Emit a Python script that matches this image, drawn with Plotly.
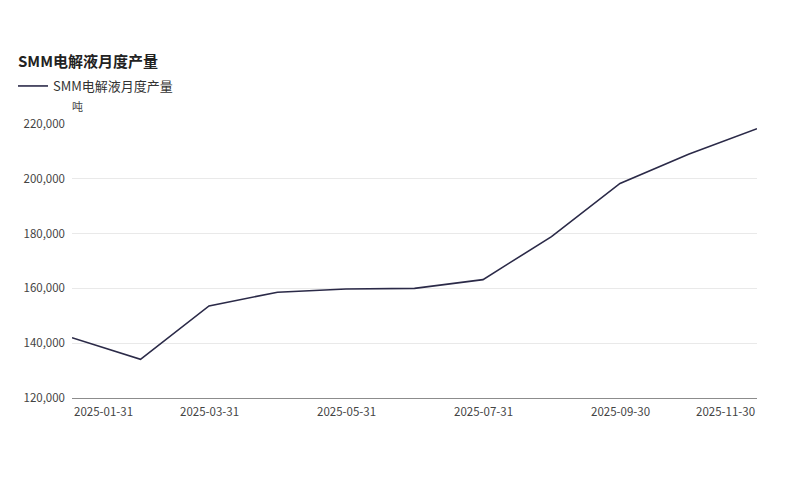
import plotly.graph_objects as go

# monthly data (tonnes)
months = ["2025-01-31", "2025-02-28", "2025-03-31", "2025-04-30", "2025-05-31",
          "2025-06-30", "2025-07-31", "2025-08-31", "2025-09-30", "2025-10-31",
          "2025-11-30"]
output_t = [142000, 134100, 153600, 158600, 159800, 160000, 163200,
            178900, 198300, 209000, 218300]
label_months = ["2025-01-31", "2025-03-31", "2025-05-31", "2025-07-31",
                "2025-09-30", "2025-11-30"]
y_ticks = [120000, 140000, 160000, 180000, 200000, 220000]

FONT = "Noto Sans CJK SC, Noto Sans, sans-serif"
LINE_COLOR = "#2b2a48"

fig = go.Figure()
fig.add_trace(go.Scatter(
    x=months,
    y=output_t,
    name="SMM电解液月度产量",
    mode="lines",
    line=dict(color=LINE_COLOR, width=1.6),
))

# x labels as annotations so the end ones sit flush with the plot edges
annotations = []
for i, m in enumerate(label_months):
    anchor = "left" if i == 0 else ("right" if i == len(label_months) - 1 else "center")
    annotations.append(dict(
        x=m, xref="x", y=0, yref="paper", yanchor="top", yshift=-3,
        xanchor=anchor, text=m, showarrow=False,
        font=dict(size=11.5, color="#444", family=FONT),
    ))
annotations.append(dict(
    x=-0.003, xref="paper", y=1.066, yref="paper", xanchor="left", yanchor="middle",
    text="吨", showarrow=False, font=dict(size=11, color="#444", family=FONT),
))

fig.update_layout(
    width=800,
    height=495,
    paper_bgcolor="white",
    plot_bgcolor="white",
    margin=dict(l=64, r=51, t=116, b=105),
    font=dict(family=FONT, color="#333"),
    title=dict(
        text="<b>SMM电解液月度产量</b>",
        xref="container", x=10 / 800, xanchor="left",
        yref="container", y=1 - 54 / 495, yanchor="middle",
        font=dict(size=15, color="#222", family=FONT),
    ),
    showlegend=True,
    legend=dict(
        orientation="h",
        xref="container", x=5 / 800, xanchor="left",
        yref="container", y=1 - 78 / 495, yanchor="middle",
        font=dict(size=13, color="#333", family=FONT),
        itemwidth=30,
    ),
    annotations=annotations,
)

fig.update_xaxes(
    type="category",
    range=[0, len(months) - 1],
    showticklabels=False,
    ticks="",
    showgrid=False,
    showline=True,
    linecolor="#8c8c8c",
    linewidth=1,
    zeroline=False,
)
fig.update_yaxes(
    range=[120000, 220000],
    tickvals=y_ticks,
    tickformat=",",
    showgrid=True,
    gridcolor="#e9e9e9",
    gridwidth=1,
    zeroline=False,
    ticks="",
    ticklabelstandoff=6,
    tickfont=dict(size=11.5, color="#444", family=FONT),
)

fig.write_html("out.html")
